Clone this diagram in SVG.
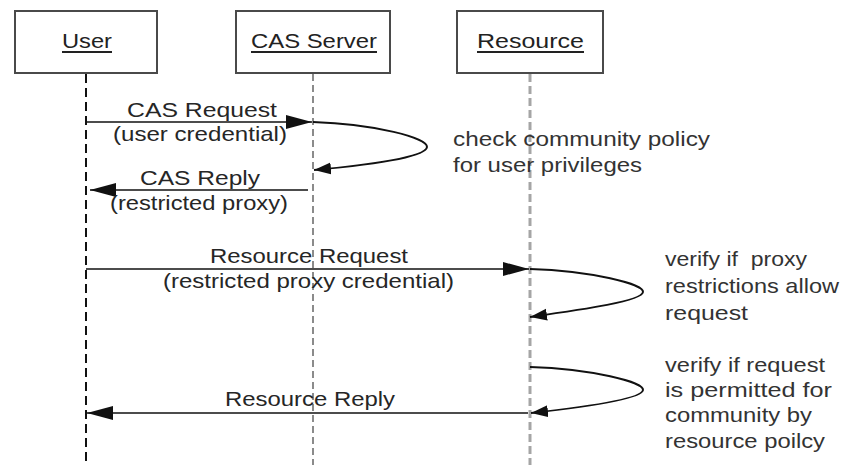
<svg xmlns="http://www.w3.org/2000/svg" width="847" height="465" viewBox="0 0 847 465">
  <style>
    .box { fill: #ffffff; stroke: #4a4a4a; stroke-width: 2; }
    .title { font-family: "Liberation Sans", Arial, sans-serif; font-size: 21px; fill: #222; }
    .lbl { font-family: "Liberation Sans", Arial, sans-serif; font-size: 21px; fill: #262626; }
    .note { font-family: "Liberation Sans", Arial, sans-serif; font-size: 21px; fill: #333; white-space: pre; }
    .uline { stroke: #222; stroke-width: 2; }
    .msg { stroke: #111; stroke-width: 1.6; fill: none; }
    .loop { stroke: #111; stroke-width: 2; fill: none; }
  </style>
  <defs>
    <marker id="head" markerUnits="userSpaceOnUse" markerWidth="28" markerHeight="16" refX="26" refY="7" orient="auto">
      <path d="M0,0 L26,7 L0,14 Z" fill="#111"/>
    </marker>
    <marker id="headSmall" markerUnits="userSpaceOnUse" markerWidth="20" markerHeight="14" refX="17" refY="6" orient="auto">
      <path d="M0,0 L17,6 L0,12 Z" fill="#111"/>
    </marker>
  </defs>

  <rect width="847" height="465" fill="#ffffff"/>

  <!-- participants -->
  <g id="user">
    <rect class="box" x="15" y="11" width="142" height="62"/>
    <text class="title" x="62" y="48" textLength="50" lengthAdjust="spacingAndGlyphs">User</text>
    <line class="uline" x1="62" y1="52" x2="112" y2="52"/>
  </g>
  <g id="cas-server">
    <rect class="box" x="236" y="11" width="154" height="62"/>
    <text class="title" x="251" y="48" textLength="126" lengthAdjust="spacingAndGlyphs">CAS Server</text>
    <line class="uline" x1="251" y1="52" x2="377" y2="52"/>
  </g>
  <g id="resource">
    <rect class="box" x="457" y="11" width="146" height="62"/>
    <text class="title" x="477" y="48" textLength="107" lengthAdjust="spacingAndGlyphs">Resource</text>
    <line class="uline" x1="477" y1="52" x2="584" y2="52"/>
  </g>

  <!-- lifelines -->
  <g id="lifelines">
    <line x1="86" y1="74" x2="86" y2="465" stroke="#111" stroke-width="2" stroke-dasharray="9,5"/>
    <line x1="313" y1="74" x2="313" y2="465" stroke="#666" stroke-width="1.5" stroke-dasharray="7,4"/>
    <line x1="530" y1="74" x2="530" y2="465" stroke="#a5a5a5" stroke-width="3" stroke-dasharray="8,4"/>
  </g>

  <!-- messages -->
  <g id="connectors">
    <line class="msg" x1="86" y1="122" x2="312" y2="122" marker-end="url(#head)"/>
    <path class="loop" d="M313,122 C375,124 428,138 427,147 C426,157 370,165 314,170" marker-end="url(#headSmall)"/>
    <line class="msg" x1="308" y1="190" x2="90" y2="190" marker-end="url(#head)"/>
    <line class="msg" x1="86" y1="269" x2="529" y2="269" marker-end="url(#head)"/>
    <path class="loop" d="M530,269 C592,271 644,284 643,292 C642,301 586,309 530,317" marker-end="url(#headSmall)"/>
    <path class="loop" d="M530,367 C592,369 644,382 643,390 C642,399 586,407 531,413" marker-end="url(#headSmall)"/>
    <line class="msg" x1="528" y1="413" x2="87" y2="413" marker-end="url(#head)"/>
  </g>

  <!-- message labels -->
  <g id="labels">
    <text class="lbl" x="127" y="117" textLength="150" lengthAdjust="spacingAndGlyphs">CAS Request</text>
    <text class="lbl" x="113" y="141" textLength="174" lengthAdjust="spacingAndGlyphs">(user credential)</text>
    <text class="lbl" x="140" y="185" textLength="120" lengthAdjust="spacingAndGlyphs">CAS Reply</text>
    <text class="lbl" x="110" y="210" textLength="178" lengthAdjust="spacingAndGlyphs">(restricted proxy)</text>
    <text class="lbl" x="210" y="263" textLength="198" lengthAdjust="spacingAndGlyphs">Resource Request</text>
    <text class="lbl" x="163" y="288" textLength="291" lengthAdjust="spacingAndGlyphs">(restricted proxy credential)</text>
    <text class="lbl" x="225" y="406" textLength="170" lengthAdjust="spacingAndGlyphs">Resource Reply</text>
  </g>

  <!-- notes -->
  <g id="notes">
    <text class="note" x="453" y="146" textLength="257" lengthAdjust="spacingAndGlyphs">check community policy</text>
    <text class="note" x="453" y="172" textLength="189" lengthAdjust="spacingAndGlyphs">for user privileges</text>
    <text class="note" x="665" y="266" textLength="142" lengthAdjust="spacingAndGlyphs">verify if  proxy</text>
    <text class="note" x="665" y="293" textLength="174" lengthAdjust="spacingAndGlyphs">restrictions allow</text>
    <text class="note" x="665" y="320" textLength="83" lengthAdjust="spacingAndGlyphs">request</text>
    <text class="note" x="665" y="372" textLength="160" lengthAdjust="spacingAndGlyphs">verify if request</text>
    <text class="note" x="665" y="397" textLength="167" lengthAdjust="spacingAndGlyphs">is permitted for</text>
    <text class="note" x="665" y="422" textLength="147" lengthAdjust="spacingAndGlyphs">community by</text>
    <text class="note" x="665" y="448" textLength="160" lengthAdjust="spacingAndGlyphs">resource poilcy</text>
  </g>
</svg>
